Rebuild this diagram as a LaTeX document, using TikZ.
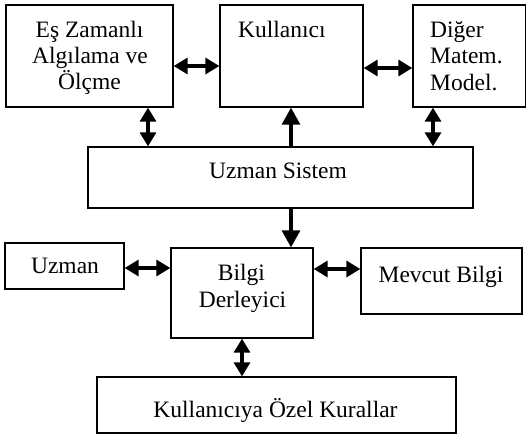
\documentclass[tikz,border=0pt]{standalone}
\usepackage{fontspec}
\setmainfont{Liberation Serif}
\usetikzlibrary{arrows.meta}
\tikzset{
  x=1pt,y=-1pt,
  box/.style={draw=black,line width=1.3pt,inner sep=0pt,fill=none},
  txt/.style={inner sep=0pt,anchor=base,font=\fontsize{23.5}{26}\selectfont},
  txtl/.style={txt,anchor=base west},
  dbl/.style={line width=3.2pt,{Triangle[length=14pt,width=16pt]}-{Triangle[length=14pt,width=16pt]}},
  sgl/.style={line width=3.2pt,-{Triangle[length=17pt,width=18pt]}}
}
\newcommand{\boxat}[5]{\node[box,minimum width=#4-#2,minimum height=#5-#3] (#1) at ({(#2+#4)/2},{(#3+#5)/2}) {};}
\begin{document}
\begin{tikzpicture}
\useasboundingbox (0,0) rectangle (527,439);
\boxat{e1}{6}{5}{173}{107}
\boxat{k}{220}{5}{363}{107}
\boxat{d}{413}{5}{525.5}{107}
\boxat{us}{88}{147}{473}{208}
\boxat{u}{5}{243}{124}{289}
\boxat{b}{171}{248}{313}{338}
\boxat{m}{361}{248}{522}{314}
\boxat{r}{97}{377}{456}{433}
% texts
\node[txt] (e1a) at (89.5,37) {Eş Zamanlı};
\node[txt] (e1b) at (90,63) {Algılama ve};
\node[txt] (e1c) at (89.5,89) {Ölçme};
\node[txtl] (kt) at (238,37) {Kullanıcı};
\node[txtl] (da) at (430,37) {Diğer};
\node[txtl] (db) at (430,63) {Matem.};
\node[txtl] (dc) at (430,90) {Model.};
\node[txt] (ust) at (278,178) {Uzman Sistem};
\node[txt] (ut) at (65,273) {Uzman};
\node[txt] (ba) at (241.5,280) {Bilgi};
\node[txt] (bb) at (242.5,307) {Derleyici};
\node[txt] (mt) at (441,282) {Mevcut Bilgi};
\node[txt] (rt) at (275.5,417) {Kullanıcıya Özel Kurallar};
% connectors
\draw[dbl] (e1.east |- 0,66) -- (k.west |- 0,66);
\draw[dbl] (k.east |- 0,68) -- (d.west |- 0,68);
\draw[dbl] (e1.south -| 148,0) -- (us.north -| 148,0);
\draw[sgl] (us.north -| 291,0) -- (k.south -| 291,0);
\draw[dbl] (d.south -| 433,0) -- (us.north -| 433,0);
\draw[sgl] (us.south -| 291,0) -- (b.north -| 291,0);
\draw[dbl] (u.east |- 0,268) -- (b.west |- 0,268);
\draw[dbl] (b.east |- 0,269) -- (m.west |- 0,269);
\draw[dbl] (b.south -| 242,0) -- (r.north -| 242,0);
\end{tikzpicture}
\end{document}
